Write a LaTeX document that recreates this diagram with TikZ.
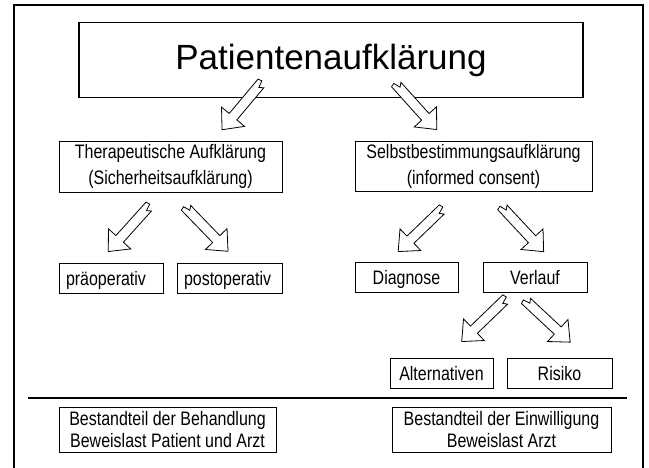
\documentclass[tikz,border=0pt]{standalone}
\usepackage{fontspec}
\setmainfont{Liberation Sans}
\newfontfamily\narrowfont{Liberation Sans}[FakeStretch=0.82]
\usepackage{tikz}

\tikzset{
  box/.style={draw, line width=0.9pt, inner sep=0pt, align=center,
    font=\narrowfont\fontsize{19.5}{26}\selectfont},
  smallbox/.style={box, minimum width=104pt, minimum height=30pt, text height=20pt, text depth=4pt},
  hollowarrow/.pic={
    \draw[line width=0.8pt, fill=white]
      (-31,5) -- (14,5) -- (14,15) -- (31,0) -- (14,-15) -- (14,-5)
      -- (-28,-5) -- (-25,-1) -- (-32,1) -- cycle;
  }
}

\begin{document}
\begin{tikzpicture}[x=1pt, y=-1pt]
        \useasboundingbox (0,0) rectangle (649,468);
        \draw[line width=2pt] (14,5) rectangle (643,471);
        % Kopf
        \node[draw, line width=1.1pt, inner sep=0pt, minimum width=504pt, minimum height=75pt,
          font=\fontsize{35}{42}\selectfont] (PA) at (331,60) {Patientenaufklärung};
        \node[box, minimum width=223pt, minimum height=51pt] (TA) at (170.5,166.5)
          {Therapeutische Aufklärung\\(Sicherheitsaufklärung)};
        \node[box, minimum width=237pt, minimum height=50pt] (SA) at (473.5,166)
          {Selbstbestimmungsaufklärung\\(informed consent)};
        \pic[rotate=-130] at (242,106) {hollowarrow};
        \pic[rotate=-48] at (416,106.5) {hollowarrow};
        % linke Seite
        \node[smallbox, text width=90pt, align=left] (PRE) at (111,278) {präoperativ};
        \node[smallbox, text width=91pt, align=left, minimum width=105pt] (POST) at (229.5,278) {postoperativ};
        \pic[rotate=-132] at (129,228.5) {hollowarrow};
        \pic[rotate=-46] at (206.5,229) {hollowarrow};
        % rechte Seite
        \node[smallbox, minimum width=103pt] (DIA) at (406.5,277) {Diagnose};
        \node[smallbox] (VER) at (535,277) {Verlauf};
        \pic[rotate=-136] at (420.5,230) {hollowarrow};
        \pic[rotate=-47] at (522.5,229) {hollowarrow};
        \node[smallbox, minimum width=103pt] (ALT) at (441.5,373) {Alternativen};
        \node[smallbox, minimum width=105pt] (RIS) at (559.5,373) {Risiko};
        \pic[rotate=-136] at (484,320) {hollowarrow};
        \pic[rotate=-43] at (547.5,321) {hollowarrow};
        % Trennlinie und Fuss
        \draw[line width=2.5pt] (28,398) -- (627,398);
        \node[box, minimum width=217pt, minimum height=45pt, font=\narrowfont\fontsize{19.5}{22}\selectfont]
          (BL) at (167.5,430) {Bestandteil der Behandlung\\Beweislast Patient und Arzt};
        \node[box, minimum width=219pt, minimum height=45pt, font=\narrowfont\fontsize{19.5}{22}\selectfont]
          (BR) at (501.5,430) {Bestandteil der Einwilligung\\Beweislast Arzt};
      \end{tikzpicture}
\end{document}
